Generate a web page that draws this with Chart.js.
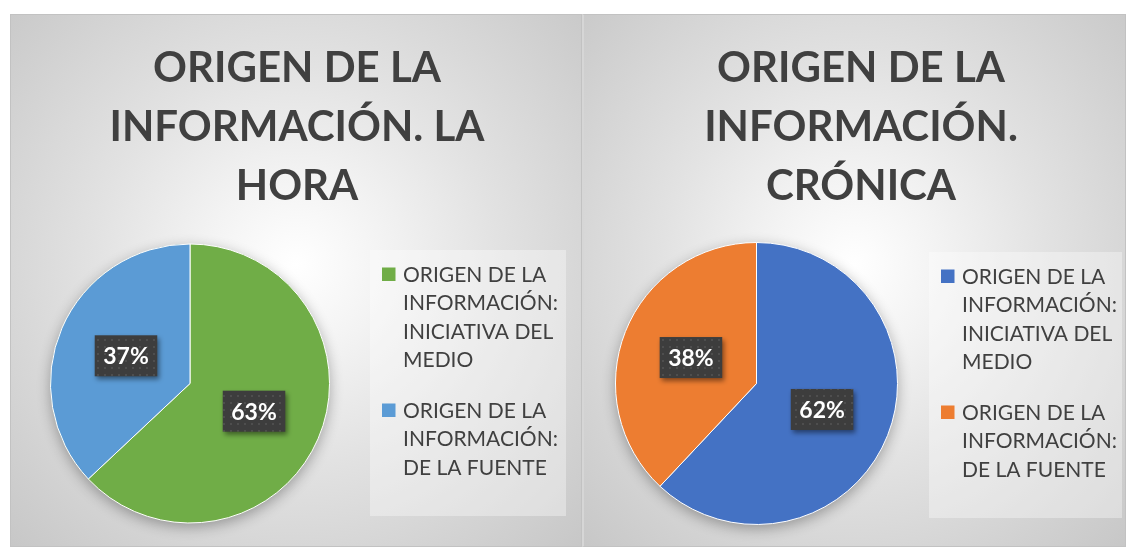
<!DOCTYPE html>
<html>
<head>
<meta charset="utf-8">
<script src="https://cdn.jsdelivr.net/npm/chart.js@4.4.1/dist/chart.umd.min.js"></script>
<style>
  body { margin: 0; background: #fff; width: 1126px; height: 547px; overflow: hidden; position: relative; }
  .panel {
    position: absolute; top: 14px; height: 533px;
    background: radial-gradient(ellipse farthest-corner at 50% 47%, #ffffff 0%, #f3f3f3 22%, #e2e2e2 50%, #cfcfcf 85%, #c7c7c7 100%);
  }
  .panel::after { content: ''; position: absolute; inset: 0; border: 1px solid #c2c2c2; pointer-events: none; }
  .panel canvas { position: absolute; left: 0; top: 0; }
  #p1 { left: 10px; width: 572px; }
  #p2 { left: 582px; width: 544px; }
  #p2::after { border-left: 2px solid #d6d6d6; }
</style>
</head>
<body>
<div class="panel" id="p1"><canvas id="laHora"></canvas></div>
<div class="panel" id="p2"><canvas id="cronica"></canvas></div>

<script>
// data
const categories = [
  ['ORIGEN DE LA', 'INFORMACIÓN:', 'INICIATIVA DEL', 'MEDIO'],
  ['ORIGEN DE LA', 'INFORMACIÓN:', 'DE LA FUENTE']
];
const laHoraTitle = ['ORIGEN DE LA', 'INFORMACIÓN. LA', 'HORA'];
const laHoraValues = [63, 37];
const cronicaTitle = ['ORIGEN DE LA', 'INFORMACIÓN.', 'CRÓNICA'];
const cronicaValues = [62, 38];

const laHoraColors = ['#70AD47', '#5B9BD5'];
const cronicaColors = ['#4472C4', '#ED7D31'];

// dark dotted fill used behind the percentages
function dotPattern() {
  const c = document.createElement('canvas');
  c.width = 7; c.height = 7;
  const g = c.getContext('2d');
  g.fillStyle = '#3d3d3d';
  g.fillRect(0, 0, 7, 7);
  g.fillStyle = '#4e4e4e';
  g.fillRect(3, 3, 2, 2);
  return g.createPattern(c, 'repeat');
}

function makePie(id, title, values, colors, pad, pos) {
  const canvas = document.getElementById(id);
  const panel = canvas.parentNode;
  canvas.width = panel.clientWidth;
  canvas.height = panel.clientHeight;

  const pieShadow = {
    id: 'pieShadow',
    beforeDatasetsDraw(chart) {
      const arc = chart.getDatasetMeta(0).data[0];
      const ctx = chart.ctx;
      ctx.save();
      ctx.shadowColor = 'rgba(0,0,0,0.32)';
      ctx.shadowBlur = 14;
      ctx.shadowOffsetY = 4;
      ctx.fillStyle = colors[0];
      ctx.beginPath();
      ctx.arc(arc.x, arc.y, arc.outerRadius, 0, Math.PI * 2);
      ctx.fill();
      ctx.restore();
    }
  };

  const decorations = {
    id: 'decorations',
    afterDraw(chart) {
      const ctx = chart.ctx;
      ctx.save();

      // title
      ctx.fillStyle = '#404040';
      ctx.font = 'bold 42px Lato';
      ctx.textAlign = 'center';
      ctx.textBaseline = 'alphabetic';
      title.forEach((line, i) => ctx.fillText(line, pos.titleX, 68 + i * 59));

      // legend
      const lx = pos.legendX;
      ctx.fillStyle = 'rgba(255,255,255,0.35)';
      ctx.fillRect(lx, pos.legendTop, pos.legendW, 266);
      ctx.font = '21px Lato';
      ctx.textAlign = 'left';
      let y = pos.legendTop + 24;
      chart.data.labels.forEach((lines, i) => {
        ctx.fillStyle = colors[i];
        ctx.fillRect(lx + 12, y - 6.5, 13.5, 13.5);
        ctx.fillStyle = '#404040';
        lines.forEach((t, j) => ctx.fillText(t, lx + 33, y + 7.5 + j * 28.5));
        y += lines.length * 28.5 + 22;
      });

      // percentage labels
      const total = values.reduce((a, b) => a + b, 0);
      const pattern = dotPattern();
      ctx.font = 'bold 23px Lato';
      ctx.textAlign = 'center';
      chart.getDatasetMeta(0).data.forEach((arc, i) => {
        const p = arc.getCenterPoint();
        const txt = Math.round(values[i] / total * 100) + '%';
        const w = ctx.measureText(txt).width + 17;
        const h = 41;
        ctx.save();
        ctx.shadowColor = 'rgba(0,0,0,0.45)';
        ctx.shadowBlur = 5;
        ctx.shadowOffsetX = 2;
        ctx.shadowOffsetY = 3;
        ctx.fillStyle = pattern;
        ctx.fillRect(p.x - w / 2, p.y - h / 2, w, h);
        ctx.restore();
        ctx.fillStyle = '#ffffff';
        ctx.fillText(txt, p.x, p.y + 8.5);
      });
      ctx.restore();
    }
  };

  return new Chart(canvas, {
    type: 'pie',
    data: {
      labels: categories,
      datasets: [{
        data: values,
        backgroundColor: colors,
        borderColor: '#ffffff',
        borderWidth: 1
      }]
    },
    options: {
      responsive: false,
      animation: false,
      layout: { padding: pad },
      plugins: {
        legend: { display: false },
        title: { display: false },
        tooltip: { enabled: false }
      }
    },
    plugins: [pieShadow, decorations]
  });
}

makePie('laHora', laHoraTitle, laHoraValues, laHoraColors,
  { left: 40, top: 229, right: 252, bottom: 23 },
  { titleX: 287, legendX: 360, legendTop: 236, legendW: 196 });

makePie('cronica', cronicaTitle, cronicaValues, cronicaColors,
  { left: 33, top: 228, right: 228, bottom: 22 },
  { titleX: 279, legendX: 347, legendTop: 238, legendW: 193 });
</script>
</body>
</html>
